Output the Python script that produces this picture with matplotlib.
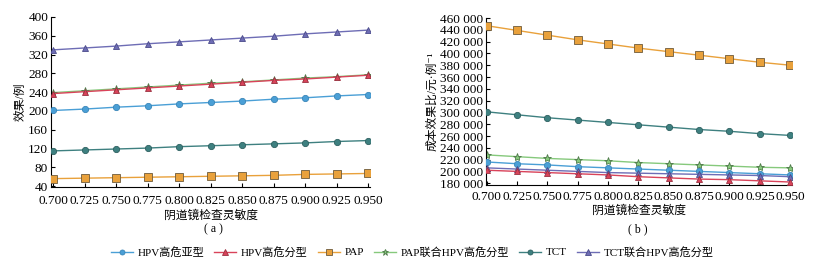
import matplotlib
matplotlib.use("Agg")
import matplotlib.pyplot as plt
from matplotlib.ticker import FuncFormatter

plt.rcParams['font.family'] = ['Liberation Serif', 'Noto Sans CJK SC', 'DejaVu Sans']
plt.rcParams['axes.unicode_minus'] = False

sens = [0.700, 0.725, 0.750, 0.775, 0.800, 0.825, 0.850, 0.875, 0.900, 0.925, 0.950]
names = ["HPV高危亚型", "HPV高危分型", "PAP", "PAP联合HPV高危分型", "TCT", "TCT联合HPV高危分型"]

# 效果/例
eff_hpv_sub = [201, 204, 208, 211, 215, 218, 221, 225, 228, 232, 235]
eff_hpv_typ = [237, 241, 245, 249, 253, 257, 261, 265, 268, 272, 276]
eff_pap = [56, 57, 58, 59, 60, 61, 62, 63, 65, 66, 67]
eff_pap_hpv = [239, 243, 247, 251, 255, 259, 262, 266, 270, 273, 277]
eff_tct = [115, 117, 119, 121, 124, 126, 128, 130, 132, 135, 137]
eff_tct_hpv = [330, 334, 338, 343, 347, 351, 355, 359, 364, 368, 372]

# 成本效果比/元·例-1
cer_hpv_sub = [216000, 213000, 211000, 208000, 206000, 204000, 202000, 200000, 198000, 196000, 194000]
cer_hpv_typ = [202000, 200000, 198000, 196000, 194000, 191000, 189000, 187000, 186000, 184000, 182000]
cer_pap = [447000, 439000, 431000, 423000, 416000, 409000, 403000, 397000, 391000, 385000, 380000]
cer_pap_hpv = [228000, 225000, 222000, 220000, 218000, 215000, 213000, 211000, 209000, 207000, 206000]
cer_tct = [301000, 296000, 291000, 287000, 283000, 279000, 275000, 271000, 268000, 264000, 261000]
cer_tct_hpv = [206000, 204000, 202000, 200000, 198000, 197000, 196000, 195000, 194000, 193000, 191000]

colors = ['#4a9fd6', '#d9435a', '#e9a13b', '#86c97c', '#3e8080', '#6e6db5']
edges = ['#3a86b8', '#9a3040', '#6e5a3a', '#4f7a4a', '#2e6060', '#4a4a8a']
markers = ['o', '^', 's', '*', 'o', '^']
msizes = [4.5, 5, 5.5, 6, 4.5, 5]
zorders = [3, 4, 3, 2, 3, 3]

fig = plt.figure(figsize=(8.16, 2.65), dpi=100)
ax1 = fig.add_axes([0.0625, 0.294, 0.391, 0.642])
ax2 = fig.add_axes([0.5956, 0.302, 0.375, 0.630])

eff = [eff_hpv_sub, eff_hpv_typ, eff_pap, eff_pap_hpv, eff_tct, eff_tct_hpv]
cer = [cer_hpv_sub, cer_hpv_typ, cer_pap, cer_pap_hpv, cer_tct, cer_tct_hpv]

handles = []
for i in range(6):
    h, = ax1.plot(sens, eff[i], color=colors[i], marker=markers[i], ms=msizes[i],
                  mec=edges[i], mfc=colors[i], mew=0.6, lw=1.0, zorder=zorders[i],
                  label=names[i])
    handles.append(h)
    ax2.plot(sens, cer[i], color=colors[i], marker=markers[i], ms=msizes[i],
             mec=edges[i], mfc=colors[i], mew=0.6, lw=1.0, zorder=zorders[i])

ax1.set_xlim(0.6984, 0.9516)
ax1.set_ylim(38, 400)
ax1.set_yticks(range(40, 401, 40))
ax1.set_ylabel("效果/例", fontsize=8.5, labelpad=1)

ax2.set_xlim(0.6995, 0.9515)
ax2.set_ylim(177000, 460000)
ax2.set_yticks(range(180000, 460001, 20000))
ax2.yaxis.set_major_formatter(FuncFormatter(lambda v, p: "{:,}".format(int(v)).replace(",", " ")))
ax2.set_ylabel("成本效果比/元·例⁻¹", fontsize=8.5, labelpad=1)

for ax in (ax1, ax2):
    ax.set_xticks(sens)
    ax.set_xticklabels(["%.3f" % s for s in sens])
    ax.spines['top'].set_visible(False)
    ax.spines['right'].set_visible(False)
    ax.tick_params(direction='in', length=3, labelsize=9.5, pad=2, width=0.8)
    ax.set_xlabel("阴道镜检查灵敏度", fontsize=8.5, labelpad=2)
ax1.tick_params(axis='x', pad=6)
ax2.tick_params(axis='x', pad=4)

fig.text(213 / 816, 1 - 229 / 265, "( a )", ha='center', va='center', fontsize=8.5)
fig.text(638 / 816, 1 - 229 / 265, "( b )", ha='center', va='center', fontsize=8.5)

fig.legend(handles=handles, loc='center', bbox_to_anchor=(0.505, 1 - 252 / 265), ncol=6,
           frameon=False, fontsize=8, handlelength=2.0, columnspacing=0.9, handletextpad=0.4,
           markerscale=0.8)

fig.savefig("out.png", dpi=100)
